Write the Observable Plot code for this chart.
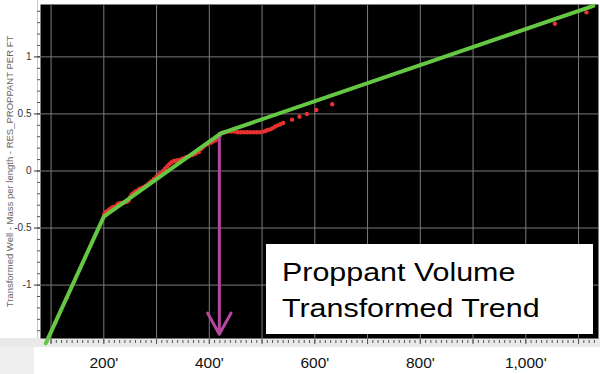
<!DOCTYPE html>
<html><head><meta charset="utf-8">
<script src="https://cdn.jsdelivr.net/npm/d3@7"></script>
<script src="https://cdn.jsdelivr.net/npm/@observablehq/plot@0.6"></script>
<style>
html,body{margin:0;padding:0;background:#fff;}
#wrap{position:relative;width:600px;height:374px;overflow:hidden;font-family:"Liberation Sans",Arial,sans-serif;}
#panel{position:absolute;left:0;top:0;width:37px;height:338px;border-right:1px solid #c8c8c8;background:#fff;}
#strip{position:absolute;left:0;top:338px;width:600px;height:9px;background:#e9e9e9;}
#corner{position:absolute;left:0;top:347px;width:34px;height:27px;background:#efefef;}
#chart{position:absolute;left:0;top:0;}
#chart svg{display:block;}
#note{position:absolute;left:266px;top:244px;width:327px;height:90px;background:#fff;}
#note div{position:absolute;left:16px;font-size:26px;line-height:26px;color:#000;transform:scaleX(1.17);transform-origin:left;white-space:nowrap;}
</style></head>
<body>
<div id="wrap">
  <div id="panel"></div>
  <div id="strip"></div>
  <div id="corner"></div>
  <div id="chart"></div>
  <div id="note"></div>
</div>
<script>
// Trend line (green) vertices
const trendX = [90, 200, 422, 1128];
const trendY = [-1.51, -0.40, 0.33, 1.447];
// Measured points (red)
const pointX = [108, 130, 201, 204, 207, 210, 213, 216, 219, 222, 226, 229, 232, 236, 240, 244, 247, 250, 253, 256, 260, 264, 268, 272, 276, 280, 285, 290, 295, 300, 304, 308, 312, 316, 320, 324, 328, 332, 336, 340, 345, 350, 356, 362, 368, 374, 380, 384, 388, 392, 396, 400, 404, 408, 412, 416, 420, 425, 430, 436, 442, 448, 454, 460, 466, 472, 478, 484, 490, 496, 502, 507, 511, 515, 520, 525, 530, 535, 540, 557, 571, 585, 603, 633, 1055, 1115];
const pointY = [-1.33, -1.11, -0.38, -0.36, -0.35, -0.34, -0.33, -0.32, -0.315, -0.31, -0.29, -0.285, -0.28, -0.28, -0.275, -0.27, -0.26, -0.23, -0.205, -0.195, -0.18, -0.17, -0.155, -0.15, -0.14, -0.13, -0.11, -0.09, -0.07, -0.05, -0.03, -0.02, 0.0, 0.02, 0.04, 0.06, 0.075, 0.085, 0.09, 0.095, 0.10, 0.11, 0.12, 0.13, 0.14, 0.15, 0.165, 0.19, 0.21, 0.225, 0.235, 0.245, 0.25, 0.26, 0.27, 0.29, 0.31, 0.335, 0.34, 0.345, 0.345, 0.345, 0.34, 0.34, 0.34, 0.34, 0.34, 0.34, 0.34, 0.34, 0.345, 0.35, 0.36, 0.365, 0.375, 0.39, 0.40, 0.41, 0.42, 0.45, 0.476, 0.50, 0.535, 0.585, 1.29, 1.39];
// Arrow marking the break point
const arrowX = [419];
const arrowFrom = [0.33];
const arrowTo = [-1.43];
// Ticks
const xTicks = [200, 400, 600, 800, 1000];
const xGrid = [100, 200, 300, 400, 500, 600, 700, 800, 900, 1000, 1100];
const yTicks = [-1, -0.5, 0, 0.5, 1];
const yLabel = "Transformed Well - Mass per length - RES_PROPPANT PER FT";
const noteLines = ["Proppant Volume", "Transformed Trend"];

const trend = trendX.map((x, i) => ({x, y: trendY[i]}));
const pts = pointX.map((x, i) => ({x, y: pointY[i]}));
const arrows = arrowX.map((x, i) => ({x, y1: arrowFrom[i], y2: arrowTo[i]}));
const xMinor = d3.range(9, 114).map(d => d * 10);
const yMinor = d3.range(-14, 15).map(d => d / 10);

const chart = Plot.plot({
  width: 600, height: 374,
  marginLeft: 40, marginRight: 2, marginTop: 4, marginBottom: 36,
  style: {background: "transparent", fontFamily: "Liberation Sans, Arial, sans-serif"},
  x: {domain: [80, 1137.8]},
  y: {domain: [-1.468, 1.459]},
  marks: [
    Plot.frame({fill: "black", stroke: "none"}),
    Plot.gridX(xGrid, {stroke: "#7a7a7a", strokeOpacity: 1}),
    Plot.gridY(yTicks, {stroke: "#7a7a7a", strokeOpacity: 1}),
    Plot.axisY(yMinor, {tickSize: 3, tickFormat: () => "", stroke: "#555", label: null}),
    Plot.axisY(yTicks, {tickSize: 6, tickPadding: 3, fontSize: 10, color: "#333", tickFormat: d => String(d), label: null}),
    Plot.axisY([], {label: yLabel, labelAnchor: "center", labelOffset: 34, labelArrow: "none", fontSize: 9.5, color: "#666"}),
    Plot.axisX(xMinor, {tickSize: 3, tickFormat: () => "", stroke: "#555", dy: 2, label: null}),
    Plot.axisX(xGrid, {tickSize: 5, tickFormat: () => "", stroke: "#555", dy: 1, label: null}),
    Plot.axisX(xTicks, {tickSize: 0, tickPadding: 18, fontSize: 15.5, color: "#111", tickFormat: d => d3.format(",")(d) + "'", label: null}),
    Plot.dot(pts, {x: "x", y: "y", r: 2.2, fill: "#e8322f", stroke: "none"}),
    Plot.arrow(arrows, {x: "x", y1: "y1", y2: "y2", stroke: "#b5479f", strokeWidth: 3, headLength: 12, headAngle: 58}),
    Plot.line(trend, {x: "x", y: "y", stroke: "#66c744", strokeWidth: 4})
  ]
});
document.getElementById("chart").appendChild(chart);

const note = document.getElementById("note");
noteLines.forEach((t, i) => {
  const d = document.createElement("div");
  d.textContent = t;
  d.style.top = (15 + i * 36) + "px";
  note.appendChild(d);
});
</script>
</body></html>
